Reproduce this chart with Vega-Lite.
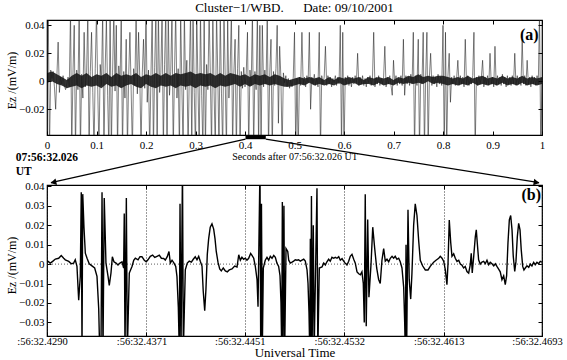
{
"$schema": "https://vega.github.io/schema/vega-lite/v6.json",
"autosize": {"type": "pad"},
"padding": {"left": 4, "top": 1, "right": 0, "bottom": 0},
"background": "white",
"config": {
  "font": "Liberation Serif",
  "view": {"stroke": "#000", "strokeWidth": 1.2},
  "axis": {"domain": false, "grid": false, "tickColor": "#000", "tickSize": -4, "tickWidth": 1, "labelColor": "#000", "labelFont": "Liberation Serif", "labelFontSize": 11, "titleFont": "Liberation Serif", "titleColor": "#000", "titleFontWeight": "normal", "labelFlush": false, "labelOverlap": false, "labelBound": false},
  "title": {"font": "Liberation Serif", "fontWeight": "normal", "color": "#000"}
},
"bounds": "flush",
"spacing": 50,
"vconcat": [
{
  "width": 495, "height": 115,
  "title": {"text": "Cluster−1/WBD.\u00a0\u00a0\u00a0\u00a0\u00a0\u00a0Date: 09/10/2001", "fontSize": 13, "offset": 4},
  "resolve": {"axis": {"x": "independent", "y": "independent"}},
  "layer": [
    {
      "data": {"values": [
{"t":0,"lo":-0.001,"hi":0.006},{"t":0.01,"lo":0,"hi":0.007},{"t":0.02,"lo":-0.002,"hi":0.005},{"t":0.03,"lo":-0.003,"hi":0.003},{"t":0.04,"lo":-0.005,"hi":0.001},{"t":0.05,"lo":-0.004,"hi":0.004},{"t":0.06,"lo":-0.003,"hi":0.006},{"t":0.07,"lo":-0.005,"hi":0.004},{"t":0.08,"lo":-0.003,"hi":0.006},{"t":0.09,"lo":-0.004,"hi":0.003},
{"t":0.1,"lo":-0.003,"hi":0.005},{"t":0.11,"lo":-0.005,"hi":0.004},{"t":0.12,"lo":-0.002,"hi":0.006},{"t":0.13,"lo":-0.004,"hi":0.003},{"t":0.14,"lo":-0.003,"hi":0.006},{"t":0.15,"lo":-0.005,"hi":0.004},{"t":0.16,"lo":-0.003,"hi":0.005},{"t":0.17,"lo":-0.002,"hi":0.004},{"t":0.18,"lo":-0.004,"hi":0.006},{"t":0.19,"lo":-0.005,"hi":0.003},
{"t":0.2,"lo":-0.002,"hi":0.005},{"t":0.21,"lo":-0.004,"hi":0.004},{"t":0.22,"lo":-0.005,"hi":0.006},{"t":0.23,"lo":-0.003,"hi":0.004},{"t":0.24,"lo":-0.004,"hi":0.006},{"t":0.25,"lo":-0.003,"hi":0.004},{"t":0.26,"lo":-0.005,"hi":0.006},{"t":0.27,"lo":-0.003,"hi":0.005},{"t":0.28,"lo":-0.004,"hi":0.006},{"t":0.29,"lo":-0.003,"hi":0.007},
{"t":0.3,"lo":-0.005,"hi":0.005},{"t":0.31,"lo":-0.003,"hi":0.006},{"t":0.32,"lo":-0.004,"hi":0.005},{"t":0.33,"lo":-0.003,"hi":0.006},{"t":0.34,"lo":-0.005,"hi":0.004},{"t":0.35,"lo":-0.003,"hi":0.006},{"t":0.36,"lo":-0.004,"hi":0.004},{"t":0.37,"lo":-0.003,"hi":0.006},{"t":0.38,"lo":-0.002,"hi":0.005},{"t":0.39,"lo":-0.004,"hi":0.004},
{"t":0.4,"lo":-0.002,"hi":0.005},{"t":0.41,"lo":-0.004,"hi":0.003},{"t":0.42,"lo":-0.002,"hi":0.005},{"t":0.43,"lo":-0.003,"hi":0.004},{"t":0.44,"lo":-0.002,"hi":0.005},{"t":0.45,"lo":-0.003,"hi":0.003},{"t":0.46,"lo":-0.002,"hi":0.005},{"t":0.47,"lo":-0.003,"hi":0.004},{"t":0.48,"lo":-0.004,"hi":0.002},{"t":0.49,"lo":-0.004,"hi":0.001},
{"t":0.5,"lo":-0.003,"hi":0.002},{"t":0.51,"lo":-0.002,"hi":0.003},{"t":0.52,"lo":-0.003,"hi":0.002},{"t":0.53,"lo":-0.001,"hi":0.003},{"t":0.54,"lo":-0.003,"hi":0.002},{"t":0.55,"lo":-0.002,"hi":0.003},{"t":0.56,"lo":-0.003,"hi":0.001},{"t":0.57,"lo":-0.002,"hi":0.003},{"t":0.58,"lo":-0.003,"hi":0.001},{"t":0.59,"lo":-0.001,"hi":0.003},
{"t":0.6,"lo":-0.003,"hi":0.002},{"t":0.61,"lo":-0.002,"hi":0.003},{"t":0.62,"lo":-0.001,"hi":0.002},{"t":0.63,"lo":-0.003,"hi":0.003},{"t":0.64,"lo":-0.002,"hi":0.001},{"t":0.65,"lo":-0.002,"hi":0.003},{"t":0.66,"lo":-0.003,"hi":0.002},{"t":0.67,"lo":-0.001,"hi":0.003},{"t":0.68,"lo":-0.003,"hi":0.002},{"t":0.69,"lo":-0.002,"hi":0.003},
{"t":0.7,"lo":-0.003,"hi":0.001},{"t":0.71,"lo":-0.001,"hi":0.003},{"t":0.72,"lo":-0.002,"hi":0.002},{"t":0.73,"lo":-0.001,"hi":0.004},{"t":0.74,"lo":-0.002,"hi":0.003},{"t":0.75,"lo":-0.001,"hi":0.005},{"t":0.76,"lo":-0.002,"hi":0.003},{"t":0.77,"lo":0,"hi":0.004},{"t":0.78,"lo":-0.002,"hi":0.003},{"t":0.79,"lo":-0.001,"hi":0.004},
{"t":0.8,"lo":-0.002,"hi":0.004},{"t":0.81,"lo":-0.003,"hi":0.003},{"t":0.82,"lo":-0.002,"hi":0.002},{"t":0.83,"lo":-0.003,"hi":0.003},{"t":0.84,"lo":-0.002,"hi":0.002},{"t":0.85,"lo":-0.003,"hi":0.004},{"t":0.86,"lo":-0.001,"hi":0.002},{"t":0.87,"lo":-0.003,"hi":0.003},{"t":0.88,"lo":-0.002,"hi":0.004},{"t":0.89,"lo":-0.003,"hi":0.002},
{"t":0.9,"lo":-0.002,"hi":0.003},{"t":0.91,"lo":-0.003,"hi":0.002},{"t":0.92,"lo":-0.001,"hi":0.004},{"t":0.93,"lo":-0.003,"hi":0.002},{"t":0.94,"lo":-0.002,"hi":0.003},{"t":0.95,"lo":-0.003,"hi":0.002},{"t":0.96,"lo":-0.001,"hi":0.004},{"t":0.97,"lo":-0.003,"hi":0.002},{"t":0.98,"lo":-0.002,"hi":0.003},{"t":0.99,"lo":-0.003,"hi":0.002},
{"t":1,"lo":-0.002,"hi":0.003}
      ]},
      "mark": {"type": "area", "color": "#000", "opacity": 0.8, "clip": true},
      "encoding": {
        "x": {"field": "t", "type": "quantitative", "scale": {"domain": [0, 1], "nice": false, "zero": false}, "axis": null},
        "y": {"field": "lo", "type": "quantitative", "scale": {"domain": [-0.0384, 0.0438], "nice": false, "zero": false}, "axis": null},
        "y2": {"field": "hi"}
      }
    },
    {
      "data": {"values": [
{"t":0,"v":0.006},{"t":0.0025,"v":0.05},{"t":0.005,"v":-0.05},{"t":0.0075,"v":0.008},{"t":0.01,"v":0.002},{"t":0.0125,"v":0.007},{"t":0.015,"v":-0.004},{"t":0.0175,"v":-0.02},{"t":0.02,"v":0.004},{"t":0.0225,"v":0.028},
{"t":0.025,"v":-0.008},{"t":0.0275,"v":0.003},{"t":0.03,"v":-0.002},{"t":0.0325,"v":0.004},{"t":0.035,"v":-0.003},{"t":0.0375,"v":-0.006},{"t":0.04,"v":-0.002},{"t":0.0425,"v":0.003},{"t":0.045,"v":-0.004},{"t":0.0475,"v":0.05},
{"t":0.05,"v":-0.05},{"t":0.0525,"v":0.006},{"t":0.055,"v":0.04},{"t":0.0575,"v":-0.05},{"t":0.06,"v":0.008},{"t":0.0625,"v":-0.006},{"t":0.065,"v":0.05},{"t":0.0675,"v":-0.05},{"t":0.07,"v":0.005},{"t":0.0725,"v":-0.012},
{"t":0.075,"v":0.035},{"t":0.0775,"v":-0.004},{"t":0.08,"v":0.006},{"t":0.0825,"v":0.05},{"t":0.085,"v":-0.05},{"t":0.0875,"v":0.007},{"t":0.09,"v":0.035},{"t":0.0925,"v":-0.008},{"t":0.095,"v":-0.05},{"t":0.0975,"v":0.009},
{"t":0.1,"v":0.05},{"t":0.1025,"v":-0.006},{"t":0.105,"v":-0.05},{"t":0.1075,"v":0.012},{"t":0.11,"v":-0.003},{"t":0.1125,"v":0.05},{"t":0.115,"v":-0.05},{"t":0.1175,"v":0.008},{"t":0.12,"v":0.045},{"t":0.1225,"v":-0.01},
{"t":0.125,"v":-0.05},{"t":0.1275,"v":0.05},{"t":0.13,"v":-0.05},{"t":0.1325,"v":0.006},{"t":0.135,"v":0.05},{"t":0.1375,"v":-0.007},{"t":0.14,"v":0.04},{"t":0.1425,"v":-0.05},{"t":0.145,"v":0.011},{"t":0.1475,"v":-0.004},
{"t":0.15,"v":0.05},{"t":0.1525,"v":-0.05},{"t":0.155,"v":0.007},{"t":0.1575,"v":-0.012},{"t":0.16,"v":0.03},{"t":0.1625,"v":-0.05},{"t":0.165,"v":0.004},{"t":0.1675,"v":0.035},{"t":0.17,"v":-0.006},{"t":0.1725,"v":-0.05},
{"t":0.175,"v":0.009},{"t":0.1775,"v":-0.003},{"t":0.18,"v":0.05},{"t":0.1825,"v":-0.009},{"t":0.185,"v":0.035},{"t":0.1875,"v":0.002},{"t":0.19,"v":-0.05},{"t":0.1925,"v":0.006},{"t":0.195,"v":0.03},{"t":0.1975,"v":-0.005},
{"t":0.2,"v":0.05},{"t":0.2025,"v":-0.015},{"t":0.205,"v":0.008},{"t":0.2075,"v":-0.05},{"t":0.21,"v":0.004},{"t":0.2125,"v":0.05},{"t":0.215,"v":-0.05},{"t":0.2175,"v":0.01},{"t":0.22,"v":0.05},{"t":0.2225,"v":-0.05},
{"t":0.225,"v":0.05},{"t":0.2275,"v":-0.008},{"t":0.23,"v":0.006},{"t":0.2325,"v":0.05},{"t":0.235,"v":-0.05},{"t":0.2375,"v":0.012},{"t":0.24,"v":0.05},{"t":0.2425,"v":-0.05},{"t":0.245,"v":0.05},{"t":0.2475,"v":-0.01},
{"t":0.25,"v":0.007},{"t":0.2525,"v":0.05},{"t":0.255,"v":-0.05},{"t":0.2575,"v":0.005},{"t":0.26,"v":0.05},{"t":0.2625,"v":-0.012},{"t":0.265,"v":0.009},{"t":0.2675,"v":-0.05},{"t":0.27,"v":0.05},{"t":0.2725,"v":-0.004},
{"t":0.275,"v":-0.05},{"t":0.2775,"v":0.05},{"t":0.28,"v":-0.006},{"t":0.2825,"v":0.015},{"t":0.285,"v":-0.05},{"t":0.2875,"v":0.006},{"t":0.29,"v":0.05},{"t":0.2925,"v":-0.05},{"t":0.295,"v":0.05},{"t":0.2975,"v":-0.008},
{"t":0.3,"v":-0.05},{"t":0.3025,"v":0.05},{"t":0.305,"v":-0.003},{"t":0.3075,"v":-0.05},{"t":0.31,"v":0.05},{"t":0.3125,"v":-0.01},{"t":0.315,"v":-0.05},{"t":0.3175,"v":0.05},{"t":0.32,"v":-0.05},{"t":0.3225,"v":0.012},
{"t":0.325,"v":-0.006},{"t":0.3275,"v":0.05},{"t":0.33,"v":0.004},{"t":0.3325,"v":-0.05},{"t":0.335,"v":0.05},{"t":0.3375,"v":-0.007},{"t":0.34,"v":-0.05},{"t":0.3425,"v":0.05},{"t":0.345,"v":0.005},{"t":0.3475,"v":-0.05},
{"t":0.35,"v":0.05},{"t":0.3525,"v":-0.009},{"t":0.355,"v":-0.05},{"t":0.3575,"v":0.05},{"t":0.36,"v":0.003},{"t":0.3625,"v":-0.05},{"t":0.365,"v":0.045},{"t":0.3675,"v":-0.012},{"t":0.37,"v":0.008},{"t":0.3725,"v":0.05},
{"t":0.375,"v":-0.05},{"t":0.3775,"v":0.006},{"t":0.38,"v":0.03},{"t":0.3825,"v":-0.05},{"t":0.385,"v":0.009},{"t":0.3875,"v":0.04},{"t":0.39,"v":-0.05},{"t":0.3925,"v":0.007},{"t":0.395,"v":-0.005},{"t":0.3975,"v":0.01},
{"t":0.4,"v":-0.004},{"t":0.4025,"v":0.006},{"t":0.405,"v":0.035},{"t":0.4075,"v":-0.05},{"t":0.41,"v":0.008},{"t":0.4125,"v":-0.003},{"t":0.415,"v":0.05},{"t":0.4175,"v":-0.05},{"t":0.42,"v":0.007},{"t":0.4225,"v":-0.006},
{"t":0.425,"v":0.05},{"t":0.4275,"v":-0.05},{"t":0.43,"v":0.04},{"t":0.4325,"v":-0.05},{"t":0.435,"v":0.04},{"t":0.4375,"v":-0.004},{"t":0.44,"v":0.008},{"t":0.4425,"v":-0.002},{"t":0.445,"v":0.05},{"t":0.4475,"v":-0.05},
{"t":0.45,"v":0.006},{"t":0.4525,"v":0.03},{"t":0.455,"v":-0.05},{"t":0.4575,"v":0.007},{"t":0.46,"v":-0.003},{"t":0.4625,"v":0.009},{"t":0.465,"v":0.04},{"t":0.4675,"v":-0.03},{"t":0.47,"v":0.025},{"t":0.4725,"v":0.003},
{"t":0.475,"v":-0.05},{"t":0.4775,"v":0.006},{"t":0.48,"v":-0.001},{"t":0.4825,"v":0.004},{"t":0.485,"v":-0.004},{"t":0.4875,"v":0.002},{"t":0.49,"v":-0.005},{"t":0.4925,"v":0.001},{"t":0.495,"v":-0.004},{"t":0.4975,"v":0.003},
{"t":0.5,"v":0.035},{"t":0.5025,"v":-0.05},{"t":0.505,"v":0.002},{"t":0.5075,"v":-0.05},{"t":0.51,"v":0.003},{"t":0.5125,"v":-0.003},{"t":0.515,"v":0.035},{"t":0.5175,"v":-0.002},{"t":0.52,"v":0.003},{"t":0.5225,"v":-0.004},
{"t":0.525,"v":0.004},{"t":0.5275,"v":-0.001},{"t":0.53,"v":0.035},{"t":0.5325,"v":-0.02},{"t":0.535,"v":0.003},{"t":0.5375,"v":-0.002},{"t":0.54,"v":0.005},{"t":0.5425,"v":-0.003},{"t":0.545,"v":0.002},{"t":0.5475,"v":-0.004},
{"t":0.55,"v":0.035},{"t":0.5525,"v":-0.05},{"t":0.555,"v":0.004},{"t":0.5575,"v":-0.002},{"t":0.56,"v":0.003},{"t":0.5625,"v":0.025},{"t":0.565,"v":-0.003},{"t":0.5675,"v":0.004},{"t":0.57,"v":-0.002},{"t":0.5725,"v":0.003},
{"t":0.575,"v":-0.004},{"t":0.5775,"v":0.002},{"t":0.58,"v":-0.001},{"t":0.5825,"v":0.004},{"t":0.585,"v":-0.003},{"t":0.5875,"v":0.003},{"t":0.59,"v":-0.002},{"t":0.5925,"v":0.04},{"t":0.595,"v":-0.05},{"t":0.5975,"v":0.035},
{"t":0.6,"v":-0.05},{"t":0.6025,"v":0.003},{"t":0.605,"v":-0.002},{"t":0.6075,"v":0.004},{"t":0.61,"v":-0.003},{"t":0.6125,"v":0.002},{"t":0.615,"v":-0.004},{"t":0.6175,"v":0.003},{"t":0.62,"v":-0.002},{"t":0.6225,"v":0.004},
{"t":0.625,"v":-0.001},{"t":0.6275,"v":0.02},{"t":0.63,"v":-0.003},{"t":0.6325,"v":0.003},{"t":0.635,"v":-0.002},{"t":0.6375,"v":0.004},{"t":0.64,"v":-0.003},{"t":0.6425,"v":0.002},{"t":0.645,"v":-0.004},{"t":0.6475,"v":0.003},
{"t":0.65,"v":-0.001},{"t":0.6525,"v":0.004},{"t":0.655,"v":-0.003},{"t":0.6575,"v":0.002},{"t":0.66,"v":0.035},{"t":0.6625,"v":-0.004},{"t":0.665,"v":0.003},{"t":0.6675,"v":-0.002},{"t":0.67,"v":0.004},{"t":0.6725,"v":-0.003},
{"t":0.675,"v":0.002},{"t":0.6775,"v":-0.002},{"t":0.68,"v":0.003},{"t":0.6825,"v":0.025},{"t":0.685,"v":-0.004},{"t":0.6875,"v":0.003},{"t":0.69,"v":-0.002},{"t":0.6925,"v":0.004},{"t":0.695,"v":-0.003},{"t":0.6975,"v":-0.01},
{"t":0.7,"v":0.015},{"t":0.7025,"v":-0.002},{"t":0.705,"v":0.004},{"t":0.7075,"v":-0.003},{"t":0.71,"v":0.002},{"t":0.7125,"v":-0.002},{"t":0.715,"v":0.004},{"t":0.7175,"v":-0.003},{"t":0.72,"v":0.03},{"t":0.7225,"v":-0.01},
{"t":0.725,"v":0.004},{"t":0.7275,"v":-0.002},{"t":0.73,"v":0.003},{"t":0.7325,"v":-0.003},{"t":0.735,"v":0.005},{"t":0.7375,"v":-0.002},{"t":0.74,"v":0.035},{"t":0.7425,"v":-0.05},{"t":0.745,"v":0.004},{"t":0.7475,"v":-0.003},
{"t":0.75,"v":0.03},{"t":0.7525,"v":-0.05},{"t":0.755,"v":0.005},{"t":0.7575,"v":-0.002},{"t":0.76,"v":0.035},{"t":0.7625,"v":-0.05},{"t":0.765,"v":0.004},{"t":0.7675,"v":0.035},{"t":0.77,"v":-0.05},{"t":0.7725,"v":0.003},
{"t":0.775,"v":0.02},{"t":0.7775,"v":-0.003},{"t":0.78,"v":0.004},{"t":0.7825,"v":-0.002},{"t":0.785,"v":0.003},{"t":0.7875,"v":-0.004},{"t":0.79,"v":0.005},{"t":0.7925,"v":-0.002},{"t":0.795,"v":0.003},{"t":0.7975,"v":-0.003},
{"t":0.8,"v":0.04},{"t":0.8025,"v":-0.05},{"t":0.805,"v":0.035},{"t":0.8075,"v":-0.05},{"t":0.81,"v":0.004},{"t":0.8125,"v":0.02},{"t":0.815,"v":-0.015},{"t":0.8175,"v":0.003},{"t":0.82,"v":-0.002},{"t":0.8225,"v":0.004},
{"t":0.825,"v":-0.003},{"t":0.8275,"v":0.002},{"t":0.83,"v":0.015},{"t":0.8325,"v":-0.003},{"t":0.835,"v":0.004},{"t":0.8375,"v":-0.002},{"t":0.84,"v":0.003},{"t":0.8425,"v":-0.004},{"t":0.845,"v":0.03},{"t":0.8475,"v":-0.002},
{"t":0.85,"v":0.004},{"t":0.8525,"v":-0.003},{"t":0.855,"v":0.002},{"t":0.8575,"v":-0.002},{"t":0.86,"v":0.004},{"t":0.8625,"v":0.035},{"t":0.865,"v":-0.05},{"t":0.8675,"v":0.003},{"t":0.87,"v":-0.003},{"t":0.8725,"v":0.004},
{"t":0.875,"v":-0.002},{"t":0.8775,"v":0.003},{"t":0.88,"v":0.015},{"t":0.8825,"v":-0.004},{"t":0.885,"v":0.003},{"t":0.8875,"v":-0.002},{"t":0.89,"v":0.004},{"t":0.8925,"v":-0.003},{"t":0.895,"v":0.02},{"t":0.8975,"v":-0.002},
{"t":0.9,"v":0.003},{"t":0.9025,"v":-0.004},{"t":0.905,"v":0.025},{"t":0.9075,"v":-0.003},{"t":0.91,"v":0.004},{"t":0.9125,"v":-0.002},{"t":0.915,"v":0.003},{"t":0.9175,"v":-0.003},{"t":0.92,"v":0.005},{"t":0.9225,"v":-0.002},
{"t":0.925,"v":0.003},{"t":0.9275,"v":-0.004},{"t":0.93,"v":0.004},{"t":0.9325,"v":-0.002},{"t":0.935,"v":0.003},{"t":0.9375,"v":-0.003},{"t":0.94,"v":0.004},{"t":0.9425,"v":-0.002},{"t":0.945,"v":0.02},{"t":0.9475,"v":-0.003},
{"t":0.95,"v":0.004},{"t":0.9525,"v":-0.002},{"t":0.955,"v":0.003},{"t":0.9575,"v":-0.003},{"t":0.96,"v":0.03},{"t":0.9625,"v":-0.002},{"t":0.965,"v":0.004},{"t":0.9675,"v":-0.003},{"t":0.97,"v":0.015},{"t":0.9725,"v":-0.002},
{"t":0.975,"v":0.003},{"t":0.9775,"v":-0.004},{"t":0.98,"v":0.004},{"t":0.9825,"v":-0.002},{"t":0.985,"v":0.003},{"t":0.9875,"v":-0.003},{"t":0.99,"v":0.004},{"t":0.9925,"v":-0.002},{"t":0.995,"v":0.05},{"t":0.9975,"v":-0.05},
{"t":1,"v":0.002}
      ]},
      "mark": {"type": "line", "color": "#1a1a1a", "strokeWidth": 0.55, "clip": true},
      "encoding": {
        "x": {"field": "t", "type": "quantitative", "scale": {"domain": [0, 1], "nice": false, "zero": false},
              "axis": {"orient": "bottom", "values": [0,0.1,0.2,0.3,0.4,0.5,0.6,0.7,0.8,0.9,1], "format": "~g", "labelPadding": 8, "title": "Seconds after 07:56:32.026 UT", "titleFontSize": 10, "titlePadding": 1}},
        "y": {"field": "v", "type": "quantitative", "scale": {"domain": [-0.0384, 0.0438], "nice": false, "zero": false},
              "axis": {"orient": "left", "values": [-0.02,0,0.02,0.04], "format": "~g", "labelPadding": 7, "title": "Ez /(mV/m)", "titleFontSize": 12, "titleX": -29, "titleY": 60}}
      }
    },
    {
      "data": {"values": [{"t": 0.993, "v": 0.033, "s": "(a)"}]},
      "mark": {"type": "text", "align": "right", "baseline": "middle", "fontSize": 16, "fontWeight": "bold", "color": "#000"},
      "encoding": {
        "x": {"field": "t", "type": "quantitative", "scale": {"domain": [0, 1], "nice": false, "zero": false},
              "axis": {"orient": "top", "values": [0,0.1,0.2,0.3,0.4,0.5,0.6,0.7,0.8,0.9,1], "labels": false, "title": null}},
        "y": {"field": "v", "type": "quantitative", "scale": {"domain": [-0.0384, 0.0438], "nice": false, "zero": false},
              "axis": {"orient": "right", "values": [-0.02,0,0.02,0.04], "labels": false, "title": null}},
        "text": {"field": "s"}
      }
    },
    {
      "data": {"values": [{"t": 0.401, "t2": 0.442, "v": -0.0384, "v2": -0.0414}]},
      "mark": {"type": "rect", "color": "#000", "clip": false},
      "encoding": {
        "x": {"field": "t", "type": "quantitative", "scale": {"domain": [0, 1], "nice": false, "zero": false}, "axis": null},
        "x2": {"field": "t2"},
        "y": {"field": "v", "type": "quantitative", "scale": {"domain": [-0.0384, 0.0438], "nice": false, "zero": false}, "axis": null},
        "y2": {"field": "v2"}
      }
    },
    {
      "data": {"values": [{"t": 0.401, "v": -0.0414, "t2": 0.008, "v2": -0.0724}, {"t": 0.442, "v": -0.0414, "t2": 0.994, "v2": -0.0724}]},
      "mark": {"type": "rule", "color": "#000", "strokeWidth": 1.3, "clip": false},
      "encoding": {
        "x": {"field": "t", "type": "quantitative", "scale": {"domain": [0, 1], "nice": false, "zero": false}, "axis": null},
        "x2": {"field": "t2"},
        "y": {"field": "v", "type": "quantitative", "scale": {"domain": [-0.0384, 0.0438], "nice": false, "zero": false}, "axis": null},
        "y2": {"field": "v2"}
      }
    },
    {
      "data": {"values": [{"t": 0.013, "v": -0.0723}]},
      "mark": {"type": "point", "shape": "triangle-left", "filled": true, "size": 45, "color": "#000", "opacity": 1, "angle": -13, "clip": false},
      "encoding": {
        "x": {"field": "t", "type": "quantitative", "scale": {"domain": [0, 1], "nice": false, "zero": false}, "axis": null},
        "y": {"field": "v", "type": "quantitative", "scale": {"domain": [-0.0384, 0.0438], "nice": false, "zero": false}, "axis": null}
      }
    },
    {
      "data": {"values": [{"t": 0.989, "v": -0.0723}]},
      "mark": {"type": "point", "shape": "triangle-right", "filled": true, "size": 45, "color": "#000", "opacity": 1, "angle": 9, "clip": false},
      "encoding": {
        "x": {"field": "t", "type": "quantitative", "scale": {"domain": [0, 1], "nice": false, "zero": false}, "axis": null},
        "y": {"field": "v", "type": "quantitative", "scale": {"domain": [-0.0384, 0.0438], "nice": false, "zero": false}, "axis": null}
      }
    },
    {
      "data": {"values": [{"t": -0.0632, "v": -0.0548, "s": "07:56:32.026"}, {"t": -0.0632, "v": -0.0648, "s": "UT"}]},
      "mark": {"type": "text", "align": "left", "baseline": "middle", "fontSize": 11.5, "fontWeight": "bold", "color": "#000", "clip": false},
      "encoding": {
        "x": {"field": "t", "type": "quantitative", "scale": {"domain": [0, 1], "nice": false, "zero": false}, "axis": null},
        "y": {"field": "v", "type": "quantitative", "scale": {"domain": [-0.0384, 0.0438], "nice": false, "zero": false}, "axis": null},
        "text": {"field": "s"}
      }
    }
  ]
},
{
  "width": 495, "height": 151,
  "resolve": {"axis": {"x": "independent", "y": "independent"}},
  "layer": [
    {
      "data": {"values": [{"v": 0}]},
      "mark": {"type": "rule", "color": "#333", "strokeWidth": 0.8, "strokeDash": [1, 2]},
      "encoding": {
        "y": {"field": "v", "type": "quantitative", "scale": {"domain": [-0.037, 0.0407], "nice": false, "zero": false}, "axis": null}
      }
    },
    {
      "data": {"values": [
{"t":32.429,"v":0.0012},{"t":32.42908,"v":0.0014},{"t":32.42927,"v":0.0005},{"t":32.42946,"v":0.0014},{"t":32.42968,"v":0.0026},{"t":32.42995,"v":0.003},{"t":32.43016,"v":0.0044},{"t":32.43036,"v":0.003},{"t":32.43049,"v":0.0022},{"t":32.43077,"v":0.0014},
{"t":32.43098,"v":0.0002},{"t":32.43117,"v":0.0005},{"t":32.4313,"v":0.0022},{"t":32.43144,"v":-0.0012},{"t":32.43158,"v":-0.0186},{"t":32.43171,"v":-0.0063},{"t":32.43179,"v":0.037},{"t":32.43185,"v":-0.045},{"t":32.43191,"v":0.036},{"t":32.43201,"v":0.019},
{"t":32.43212,"v":0.0056},{"t":32.43226,"v":0.003},{"t":32.43244,"v":0.0002},{"t":32.43266,"v":-0.0009},{"t":32.43288,"v":-0.002},{"t":32.43307,"v":-0.0063},{"t":32.43321,"v":-0.023},{"t":32.43329,"v":-0.045},{"t":32.4334,"v":-0.04},{"t":32.43348,"v":0.037},
{"t":32.43356,"v":-0.045},{"t":32.43366,"v":0.034},{"t":32.4338,"v":0.0005},{"t":32.43397,"v":-0.0063},{"t":32.43407,"v":-0.011},{"t":32.43421,"v":-0.0046},{"t":32.43432,"v":0.0038},{"t":32.43445,"v":0.0012},{"t":32.43462,"v":0.0005},{"t":32.43478,"v":-0.0005},
{"t":32.43494,"v":0.0005},{"t":32.43511,"v":0.0012},{"t":32.43524,"v":-0.002},{"t":32.43529,"v":0.026},{"t":32.43535,"v":-0.045},{"t":32.43546,"v":0.034},{"t":32.43554,"v":-0.045},{"t":32.4357,"v":-0.0046},{"t":32.43592,"v":-0.0012},{"t":32.43606,"v":0.002},
{"t":32.43619,"v":0.003},{"t":32.43641,"v":0.0022},{"t":32.43657,"v":0.0038},{"t":32.43673,"v":0.0038},{"t":32.43692,"v":0.002},{"t":32.43708,"v":0.0012},{"t":32.43722,"v":0.0022},{"t":32.43741,"v":0.004},{"t":32.4376,"v":0.0046},{"t":32.43777,"v":0.0034},
{"t":32.43796,"v":0.004},{"t":32.43814,"v":0.0046},{"t":32.43831,"v":0.003},{"t":32.4385,"v":0.0029},{"t":32.43863,"v":0.0021},{"t":32.43879,"v":0.0038},{"t":32.43893,"v":0.0065},{"t":32.43904,"v":0.0005},{"t":32.43918,"v":0.002},{"t":32.43934,"v":0.0005},
{"t":32.43948,"v":-0.0012},{"t":32.43958,"v":-0.0063},{"t":32.43969,"v":-0.022},{"t":32.43977,"v":-0.045},{"t":32.43983,"v":0.031},{"t":32.43991,"v":-0.045},{"t":32.44003,"v":0.05},{"t":32.4401,"v":-0.045},{"t":32.44026,"v":-0.003},{"t":32.44042,"v":0.0005},
{"t":32.44058,"v":0.0015},{"t":32.44075,"v":0.001},{"t":32.44091,"v":0.0025},{"t":32.44107,"v":0.0038},{"t":32.44121,"v":0.0022},{"t":32.44135,"v":0.004},{"t":32.44148,"v":0.0015},{"t":32.44162,"v":-0.001},{"t":32.44172,"v":-0.014},{"t":32.44184,"v":-0.024},
{"t":32.44194,"v":-0.013},{"t":32.44205,"v":0.005},{"t":32.44216,"v":0.013},{"t":32.44229,"v":0.019},{"t":32.44243,"v":0.0207},{"t":32.44257,"v":0.018},{"t":32.44268,"v":0.013},{"t":32.44278,"v":0.0065},{"t":32.44292,"v":0.001},{"t":32.44306,"v":-0.0025},
{"t":32.44319,"v":-0.0035},{"t":32.44335,"v":-0.002},{"t":32.44352,"v":-0.0035},{"t":32.44368,"v":-0.004},{"t":32.44384,"v":-0.003},{"t":32.44406,"v":-0.0025},{"t":32.44428,"v":-0.001},{"t":32.44447,"v":-0.0015},{"t":32.44461,"v":0.0048},{"t":32.44474,"v":0.002},
{"t":32.44487,"v":0.0035},{"t":32.44501,"v":0.0025},{"t":32.44514,"v":0.003},{"t":32.44528,"v":0.002},{"t":32.44542,"v":0.003},{"t":32.44558,"v":0.0055},{"t":32.44569,"v":0.0045},{"t":32.44583,"v":0.003},{"t":32.44596,"v":-0.0012},{"t":32.4461,"v":-0.008},
{"t":32.44618,"v":-0.022},{"t":32.44634,"v":0.05},{"t":32.4464,"v":-0.045},{"t":32.44646,"v":0.031},{"t":32.44653,"v":-0.045},{"t":32.44661,"v":-0.002},{"t":32.44669,"v":0},{"t":32.44677,"v":0.002},{"t":32.44691,"v":0.0035},{"t":32.44705,"v":0.002},
{"t":32.44718,"v":0.004},{"t":32.44732,"v":0.003},{"t":32.44746,"v":0.0045},{"t":32.44759,"v":0.0035},{"t":32.44772,"v":0.0005},{"t":32.44786,"v":-0.0012},{"t":32.44797,"v":-0.006},{"t":32.44805,"v":-0.02},{"t":32.44811,"v":-0.045},{"t":32.44816,"v":0.032},
{"t":32.44821,"v":-0.045},{"t":32.44829,"v":0.03},{"t":32.44835,"v":-0.045},{"t":32.44846,"v":0.008},{"t":32.4486,"v":0.0065},{"t":32.44868,"v":0.002},{"t":32.44881,"v":0.0005},{"t":32.44895,"v":0.001},{"t":32.44908,"v":0.0015},{"t":32.44921,"v":0.0022},
{"t":32.44935,"v":0.002},{"t":32.44949,"v":0.0022},{"t":32.44962,"v":0.0015},{"t":32.44976,"v":0.002},{"t":32.4499,"v":0.0025},{"t":32.45003,"v":0.0015},{"t":32.45017,"v":-0.003},{"t":32.45025,"v":-0.01},{"t":32.45033,"v":-0.025},{"t":32.45039,"v":-0.045},
{"t":32.45044,"v":0.013},{"t":32.45048,"v":-0.045},{"t":32.45053,"v":0.035},{"t":32.45058,"v":-0.045},{"t":32.45068,"v":0.02},{"t":32.45075,"v":-0.045},{"t":32.45098,"v":0.039},{"t":32.45105,"v":-0.045},{"t":32.45117,"v":-0.002},{"t":32.45139,"v":-0.0015},
{"t":32.45153,"v":0.0005},{"t":32.45166,"v":-0.0005},{"t":32.45179,"v":0.0012},{"t":32.45193,"v":0.0025},{"t":32.45206,"v":0.0015},{"t":32.4522,"v":0.0035},{"t":32.45234,"v":0.003},{"t":32.45247,"v":0.0035},{"t":32.45261,"v":0.003},{"t":32.45275,"v":0.0038},
{"t":32.45288,"v":0.002},{"t":32.45302,"v":0.0028},{"t":32.45315,"v":0.0015},{"t":32.45328,"v":0.0005},{"t":32.45342,"v":-0.0005},{"t":32.45356,"v":0.0015},{"t":32.45369,"v":0.004},{"t":32.45383,"v":0.005},{"t":32.45397,"v":0.0025},{"t":32.4541,"v":0.0005},
{"t":32.45424,"v":-0.004},{"t":32.45438,"v":-0.005},{"t":32.45451,"v":-0.0055},{"t":32.45464,"v":-0.004},{"t":32.45475,"v":-0.01},{"t":32.45483,"v":-0.03},{"t":32.45491,"v":0.036},{"t":32.45499,"v":-0.032},{"t":32.45511,"v":0.023},{"t":32.45521,"v":-0.017},
{"t":32.45538,"v":0},{"t":32.45552,"v":0.019},{"t":32.45568,"v":0.008},{"t":32.45584,"v":-0.002},{"t":32.456,"v":-0.008},{"t":32.45613,"v":-0.01},{"t":32.45627,"v":0.002},{"t":32.45641,"v":0.008},{"t":32.45654,"v":0.0015},{"t":32.45668,"v":0.0025},
{"t":32.45682,"v":0.0012},{"t":32.45695,"v":0.003},{"t":32.45709,"v":0.004},{"t":32.45722,"v":0.003},{"t":32.45735,"v":0.004},{"t":32.45749,"v":0.0025},{"t":32.45763,"v":0.003},{"t":32.45776,"v":0.0012},{"t":32.4579,"v":-0.002},{"t":32.45804,"v":-0.012},
{"t":32.45812,"v":-0.03},{"t":32.45817,"v":-0.045},{"t":32.45823,"v":0.01},{"t":32.45828,"v":-0.045},{"t":32.45839,"v":0.028},{"t":32.45849,"v":-0.008},{"t":32.45861,"v":-0.018},{"t":32.45871,"v":-0.005},{"t":32.45885,"v":0.02},{"t":32.45898,"v":0.031},
{"t":32.45912,"v":0.025},{"t":32.45926,"v":0.012},{"t":32.45939,"v":0.002},{"t":32.45959,"v":-0.001},{"t":32.4598,"v":-0.003},{"t":32.46002,"v":-0.003},{"t":32.4602,"v":-0.0012},{"t":32.46048,"v":0.001},{"t":32.46067,"v":0.002},{"t":32.46089,"v":0.003},
{"t":32.46102,"v":0.004},{"t":32.46116,"v":0.003},{"t":32.4613,"v":0.0014},{"t":32.46143,"v":-0.003},{"t":32.46156,"v":-0.0106},{"t":32.46165,"v":0.0005},{"t":32.46175,"v":0.0227},{"t":32.46187,"v":0.011},{"t":32.46197,"v":0.004},{"t":32.46211,"v":0.0053},
{"t":32.46224,"v":0.003},{"t":32.46238,"v":0.0014},{"t":32.46252,"v":0.002},{"t":32.46265,"v":0},{"t":32.46278,"v":-0.0005},{"t":32.46292,"v":-0.002},{"t":32.46305,"v":-0.0012},{"t":32.46319,"v":-0.0038},{"t":32.46333,"v":-0.0046},{"t":32.46346,"v":-0.0003},
{"t":32.46354,"v":0.0056},{"t":32.46362,"v":-0.0046},{"t":32.46374,"v":0.004},{"t":32.46387,"v":0.014},{"t":32.46395,"v":0.0176},{"t":32.46403,"v":0.011},{"t":32.46414,"v":0.0022},{"t":32.46427,"v":0},{"t":32.46441,"v":0.001},{"t":32.46455,"v":0.0014},
{"t":32.46468,"v":0.0002},{"t":32.46482,"v":0.002},{"t":32.46496,"v":-0.0003},{"t":32.46509,"v":0.0009},{"t":32.46523,"v":0.0002},{"t":32.46537,"v":-0.0009},{"t":32.4655,"v":0.0002},{"t":32.46563,"v":-0.0012},{"t":32.46577,"v":-0.0026},{"t":32.4659,"v":-0.004},
{"t":32.46604,"v":-0.008},{"t":32.46618,"v":-0.006},{"t":32.46631,"v":-0.0106},{"t":32.46642,"v":-0.006},{"t":32.46653,"v":0.011},{"t":32.46664,"v":0.0227},{"t":32.46675,"v":0.025},{"t":32.46686,"v":0.0176},{"t":32.46696,"v":0.004},{"t":32.46708,"v":-0.0038},
{"t":32.46718,"v":0.0014},{"t":32.46729,"v":0.014},{"t":32.4674,"v":0.021},{"t":32.46751,"v":0.0176},{"t":32.46761,"v":0.0073},{"t":32.46773,"v":-0.0012},{"t":32.46783,"v":-0.003},{"t":32.46794,"v":-0.002},{"t":32.46808,"v":-0.0009},{"t":32.46822,"v":-0.0017},
{"t":32.46835,"v":0},{"t":32.46848,"v":-0.001},{"t":32.46862,"v":0.0009},{"t":32.46875,"v":-0.0003},{"t":32.46889,"v":0.0009},{"t":32.46903,"v":0.0002},{"t":32.46916,"v":0.0014},{"t":32.4693,"v":0.001}
      ]},
      "mark": {"type": "line", "color": "#000", "strokeWidth": 1.4, "clip": true},
      "encoding": {
        "x": {"field": "t", "type": "quantitative", "scale": {"domain": [32.429, 32.4693], "nice": false, "zero": false},
              "axis": {"orient": "bottom", "values": [32.429, 32.4371, 32.4451, 32.4532, 32.4613, 32.4693], "labelExpr": "':56:' + format(datum.value, '.4f')", "labelFontSize": 10.5, "labelOffset": -5, "labelPadding": 4, "grid": true, "gridDash": [1, 2], "gridColor": "#000", "gridWidth": 0.8, "title": "Universal Time", "titleFontSize": 13, "titlePadding": 0}},
        "y": {"field": "v", "type": "quantitative", "scale": {"domain": [-0.037, 0.0407], "nice": false, "zero": false},
              "axis": {"orient": "left", "values": [-0.03,-0.02,-0.01,0,0.01,0.02,0.03,0.04], "format": "~g", "labelPadding": 7, "title": "Ez /(mV/m)", "titleFontSize": 12, "titleX": -29, "titleY": 80}}
      }
    },
    {
      "data": {"values": [{"t": 32.46922, "v": 0.0357, "s": "(b)"}]},
      "mark": {"type": "text", "align": "right", "baseline": "middle", "fontSize": 16, "fontWeight": "bold", "color": "#000"},
      "encoding": {
        "x": {"field": "t", "type": "quantitative", "scale": {"domain": [32.429, 32.4693], "nice": false, "zero": false},
              "axis": {"orient": "top", "values": [32.429, 32.4371, 32.4451, 32.4532, 32.4613, 32.4693], "labels": false, "title": null}},
        "y": {"field": "v", "type": "quantitative", "scale": {"domain": [-0.037, 0.0407], "nice": false, "zero": false},
              "axis": {"orient": "right", "values": [-0.03,-0.02,-0.01,0,0.01,0.02,0.03,0.04], "labels": false, "title": null}},
        "text": {"field": "s"}
      }
    }
  ]
}
]
}
